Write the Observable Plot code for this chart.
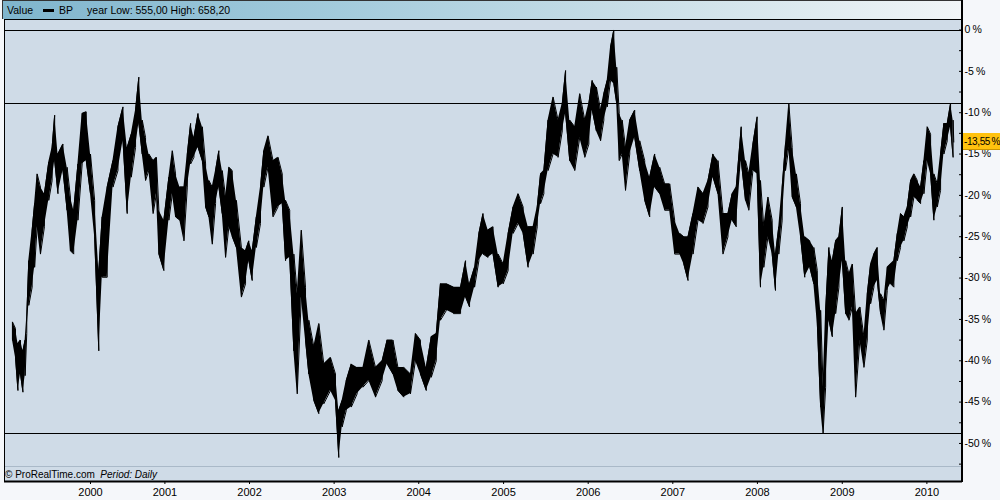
<!DOCTYPE html>
<html>
<head>
<meta charset="utf-8">
<script src="https://cdn.jsdelivr.net/npm/d3@7"></script>
<script src="https://cdn.jsdelivr.net/npm/@observablehq/plot@0.6"></script>
<style>
html, body { margin: 0; padding: 0; background: #f5f7fa; }
#wrap { position: relative; width: 1000px; height: 500px; overflow: hidden; font-family: "Liberation Sans", Arial, sans-serif; color: #000; }
#chart { position: absolute; left: 0; top: 0; }
#header { position: absolute; left: 2px; top: 0; width: 959px; height: 19px; border-top: 1px solid #333; border-left: 1px solid #333;
  background: linear-gradient(to right, #7fb5cd 0%, #a3cbdc 35%, #c8dee7 65%, #f1f5f7 100%);
  font-size: 10.5px; line-height: 18px; white-space: nowrap; box-sizing: border-box; }
#header .bar { display: inline-block; width: 11px; height: 3px; background: #000; vertical-align: middle; margin: 0 5px 0 10px; position: relative; top: -1px; }
#rightline { position: absolute; left: 961px; top: 0; width: 2px; height: 482px; background: #000; }
#footline { position: absolute; left: 5px; top: 466px; width: 956px; height: 1px; background: #aab9c8; }
#credit { position: absolute; left: 5px; top: 469px; font-size: 10px; line-height: 12px; white-space: nowrap; }
#last { position: absolute; left: 963px; width: 37px; height: 17px; background: #ffc20e; font-size: 10px; letter-spacing: -0.4px; padding-left: 1px; line-height: 17px; white-space: nowrap; overflow: hidden; border-bottom: 1px solid #c99400; box-sizing: border-box; }
</style>
</head>
<body>
<div id="wrap">
  <div id="chart"></div>
  <div id="header"></div>
  <div id="rightline"></div>
  <div id="footline"></div>
  <div id="credit"></div>
  <div id="last"></div>
</div>
<script>
// ---- data (decimal years, % below the high) ----
const years = [
1999.201,1999.237,1999.266,1999.296,1999.325,1999.351,1999.370,1999.394,1999.434,1999.463,
1999.493,1999.532,1999.579,1999.630,1999.670,1999.700,1999.739,1999.798,1999.847,1999.886,
1999.925,1999.975,2000.025,2000.073,2000.123,2000.172,2000.221,2000.261,2000.320,2000.388,
2000.447,2000.506,2000.556,2000.604,2000.654,2000.693,2000.733,2000.772,2000.811,2000.861,
2000.900,2000.929,2000.988,2001.047,2001.088,2001.126,2001.176,2001.225,2001.265,2001.304,
2001.343,2001.392,2001.442,2001.481,2001.520,2001.560,2001.599,2001.638,2001.678,2001.717,
2001.756,2001.796,2001.845,2001.904,2001.953,2001.992,
2002.032,2002.081,2002.130,2002.169,2002.219,2002.278,2002.337,2002.387,2002.426,2002.475,
2002.524,2002.564,2002.612,2002.662,2002.701,2002.760,2002.819,2002.878,2002.957,2003.016,
2003.055,2003.095,2003.144,2003.203,2003.272,2003.341,2003.410,2003.489,2003.568,2003.627,
2003.695,2003.754,2003.823,2003.902,2003.961,2004.020,2004.089,2004.148,2004.207,2004.256,
2004.327,2004.410,2004.493,2004.552,2004.599,2004.658,2004.709,2004.758,2004.817,2004.876,
2004.936,
2004.995,2005.054,2005.113,2005.172,2005.231,2005.290,2005.349,2005.398,2005.437,2005.476,
2005.526,2005.585,2005.644,2005.694,2005.733,2005.782,2005.841,2005.900,2005.960,2006.008,
2006.048,2006.097,2006.146,2006.185,2006.225,2006.264,2006.303,2006.337,2006.367,2006.402,
2006.441,2006.491,2006.550,2006.609,2006.668,2006.727,2006.786,2006.845,2006.904,2006.963,
2007.022,2007.082,2007.130,2007.180,2007.239,2007.298,2007.357,2007.416,2007.475,2007.534,
2007.593,2007.652,2007.702,2007.750,2007.809,2007.859,2007.898,
2007.947,2007.997,2008.036,2008.075,2008.124,2008.174,2008.213,2008.252,2008.292,2008.331,
2008.370,2008.410,2008.459,2008.508,2008.558,2008.617,2008.665,2008.706,2008.745,2008.774,
2008.804,2008.843,2008.883,2008.922,2008.961,2009.001,2009.040,2009.079,2009.119,2009.158,
2009.208,2009.256,2009.296,2009.335,2009.374,2009.414,2009.453,2009.492,2009.532,2009.571,
2009.610,2009.651,2009.689,2009.728,2009.769,2009.808,2009.847,2009.887,2009.926,2009.965,
2010.005,2010.044,2010.083,2010.123,2010.162,2010.201,2010.241,2010.280,2010.310
];
const highs = [
-35.3,-36.1,-37.9,-37.5,-38.8,-37.5,-34.7,-27.9,-24.2,-21.0,
-17.4,-19.0,-19.8,-16.0,-14.2,-10.3,-15.0,-13.8,-16.6,-20.2,
-21.8,-16.2,-10.1,-9.9,-15.0,-20.6,-29.1,-22.6,-19.0,-15.8,
-11.7,-9.3,-14.2,-12.6,-9.7,-5.7,-10.9,-13.0,-15.0,-15.8,
-15.4,-21.8,-23.0,-17.8,-14.6,-17.4,-19.0,-19.0,-15.0,-11.3,
-13.0,-10.1,-11.7,-16.2,-18.2,-19.0,-17.0,-14.6,-17.0,-20.2,
-16.6,-17.0,-20.6,-26.3,-26.7,-25.5,
-26.7,-22.6,-19.0,-14.6,-12.8,-15.8,-15.4,-17.4,-20.6,-21.8,
-27.1,-31.9,-24.2,-31.1,-35.1,-38.3,-35.5,-40.4,-39.6,-41.6,
-46.0,-44.8,-42.4,-40.4,-40.8,-40.8,-37.5,-40.8,-40.0,-37.5,
-37.5,-40.8,-40.8,-41.6,-36.7,-37.5,-40.8,-37.1,-36.7,-30.7,
-30.7,-31.1,-31.1,-27.9,-30.7,-28.7,-24.6,-22.2,-24.2,-23.8,
-27.1,
-28.3,-24.6,-21.4,-19.8,-21.4,-23.8,-23.8,-21.4,-17.4,-17.0,
-10.9,-8.1,-10.9,-8.9,-4.9,-10.9,-11.7,-7.7,-10.9,-8.9,
-6.1,-6.9,-9.7,-7.7,-6.1,-2.1,0.0,-4.5,-10.1,-10.9,
-14.2,-10.9,-9.7,-13.4,-15.8,-17.8,-15.0,-16.6,-18.6,-18.6,
-23.0,-24.6,-25.0,-25.0,-22.2,-19.0,-19.8,-18.2,-15.0,-15.8,
-22.2,-22.2,-19.8,-19.0,-11.7,-15.8,-17.4,
-13.8,-10.5,-18.2,-23.8,-20.2,-23.0,-27.1,-23.8,-19.0,-13.8,
-8.9,-14.2,-17.4,-21.0,-25.0,-25.5,-26.3,-29.1,-33.9,-43.2,
-33.9,-26.3,-27.9,-25.5,-25.0,-21.4,-27.9,-29.5,-28.3,-34.3,
-33.5,-37.1,-31.9,-28.3,-27.1,-26.3,-31.9,-32.7,-28.7,-28.3,
-27.9,-24.6,-22.2,-22.6,-21.4,-18.2,-17.4,-18.2,-19.0,-15.8,
-11.7,-12.6,-17.4,-18.6,-15.0,-11.3,-11.3,-8.9,-10.9
];
const lows = [
-37.5,-39.6,-43.6,-41.6,-43.8,-41.8,-36.7,-33.3,-31.1,-28.7,
-23.8,-27.1,-23.8,-20.6,-18.2,-15.8,-19.8,-17.0,-21.8,-26.7,
-27.1,-23.0,-16.2,-15.8,-19.8,-25.0,-38.8,-29.9,-29.9,-19.0,
-17.0,-13.4,-22.2,-17.8,-14.2,-11.3,-15.0,-18.2,-17.0,-22.2,
-19.8,-27.1,-29.1,-23.0,-19.8,-22.6,-23.0,-25.5,-19.0,-16.2,
-15.4,-14.2,-15.8,-21.4,-22.6,-25.9,-21.0,-19.0,-22.2,-27.5,
-23.8,-25.0,-26.3,-32.3,-30.7,-27.9,
-30.3,-26.3,-23.4,-19.0,-16.6,-22.6,-21.4,-21.0,-27.9,-27.5,
-38.8,-44.0,-32.3,-37.5,-41.6,-44.8,-46.4,-45.2,-43.6,-44.8,
-51.7,-48.0,-46.0,-45.6,-44.0,-43.2,-42.4,-44.4,-42.4,-40.4,
-41.6,-43.6,-44.4,-44.0,-40.0,-41.6,-43.6,-42.0,-40.0,-35.1,
-33.9,-34.3,-34.3,-32.3,-33.5,-31.1,-27.9,-27.1,-27.5,-27.1,
-31.1,
-30.7,-29.1,-24.6,-23.4,-24.6,-28.7,-27.1,-23.8,-21.0,-19.8,
-17.0,-15.0,-15.4,-12.2,-10.1,-15.8,-17.0,-13.0,-15.4,-13.8,
-9.7,-12.2,-13.4,-10.9,-9.3,-6.1,-6.5,-8.9,-15.8,-15.0,
-19.4,-15.0,-13.0,-17.0,-20.6,-22.6,-19.0,-19.8,-21.8,-21.8,
-27.1,-27.1,-28.3,-30.3,-27.1,-23.0,-23.4,-21.4,-17.8,-19.8,
-27.1,-25.0,-23.0,-23.8,-15.8,-20.6,-21.8,
-17.0,-17.4,-31.1,-28.7,-25.0,-27.1,-31.5,-27.1,-23.0,-17.0,
-14.2,-20.2,-21.4,-25.0,-29.9,-28.7,-30.7,-35.5,-45.6,-48.8,
-43.2,-35.1,-37.1,-34.3,-31.1,-27.9,-34.3,-35.1,-33.5,-44.4,
-37.5,-40.8,-37.5,-33.1,-31.1,-30.3,-34.3,-36.3,-31.5,-30.7,
-31.1,-27.9,-26.3,-25.5,-23.8,-22.6,-20.2,-20.6,-21.0,-19.8,
-15.8,-17.4,-23.0,-21.4,-19.4,-15.0,-13.4,-11.7,-15.4
];
const lastDate = 2010.318;
const lastValue = -13.55;
const levels = [0, -8.9, -48.8];          // horizontal reference lines (%)
const yTickValues = [0, -5, -10, -15, -20, -25, -30, -35, -40, -45, -50];
const yMinorTicks = [2.5, 0, -2.5, -5, -7.5, -10, -12.5, -15, -17.5, -20, -22.5, -25, -27.5, -30, -32.5, -35, -37.5, -40, -42.5, -45, -47.5, -50, -52.5];
// year labels and where the platform puts them (first bar of each year, on its bar-index axis)
const xTickLabels = ["2000", "2001", "2002", "2003", "2004", "2005", "2006", "2007", "2008", "2009", "2010"];
const xTickAt = [2000.123, 2001.0, 2002.0, 2003.0, 2004.0, 2005.0, 2006.0, 2007.0, 2008.0, 2009.0, 2010.0];
const xDomainYears = [1999.107, 2010.421];
const yDomain = [-54.6, 1.27];
const seriesName = "BP";
const yearLow = "555,00";
const yearHigh = "658,20";
const credit = "ProRealTime.com";
const period = "Daily";

// ---- helpers ----
function toDate(t) {
  const y = Math.floor(t);
  const a = Date.UTC(y, 0, 1), b = Date.UTC(y + 1, 0, 1);
  return new Date(a + (t - y) * (b - a));
}
const fmtPct = d => (String(d).replace(".", ",")) + "\u2009%";

const rows = years.map((t, i) => ({date: toDate(t), hi: highs[i], lo: lows[i]}));
const zig = [];
rows.forEach((r, i) => {
  const pair = i % 2 ? [r.hi, r.lo] : [r.lo, r.hi];
  pair.forEach(v => zig.push({date: r.date, v}));
});
zig.push({date: toDate(lastDate), v: lastValue});

const tickDates = xTickAt.map(toDate);
const tickLabelOf = new Map(tickDates.map((d, i) => [+d, xTickLabels[i]]));

const chart = Plot.plot({
  width: 1000, height: 500,
  marginTop: 19, marginBottom: 19, marginLeft: 4, marginRight: 38,
  style: {background: "transparent", fontFamily: "'Liberation Sans', Arial, sans-serif", fontSize: "11px", color: "#000"},
  x: {type: "utc", domain: xDomainYears.map(toDate)},
  y: {domain: yDomain},
  marks: [
    Plot.frame({fill: "#cfdbe7"}),
    Plot.ruleY(levels, {stroke: "#000", strokeWidth: 1, shapeRendering: "crispEdges"}),
    Plot.areaY(rows, {x: "date", y1: "lo", y2: "hi", fill: "#000"}),
    Plot.line(zig, {x: "date", y: "v", stroke: "#000", strokeWidth: 1}),
    Plot.axisX({anchor: "bottom", ticks: tickDates, tickFormat: d => tickLabelOf.get(+d), tickSize: 3, tickPadding: 4, label: null, fontSize: 11}),
    Plot.axisY({anchor: "right", ticks: yTickValues, tickSize: 0, tickPadding: 2, tickFormat: fmtPct, label: null, fontSize: 10.5}),
    Plot.axisY({anchor: "right", ticks: yMinorTicks, tickSize: -4, tickFormat: () => "", label: null}),
    Plot.frame({stroke: "#000", shapeRendering: "crispEdges"}),
    Plot.ruleY([yDomain[0]], {stroke: "#000", strokeWidth: 2})
  ]
});
document.getElementById("chart").appendChild(chart);

document.getElementById("header").innerHTML =
  `<span style="margin-left:4px">Value</span><span class="bar"></span><span>${seriesName}</span>` +
  `<span style="margin-left:14px">year Low: ${yearLow} High: ${yearHigh}</span>`;
document.getElementById("credit").innerHTML =
  `\u00a9 ${credit} &nbsp;<i>Period: ${period}</i>`;
const yLast = chart.scale("y").apply(lastValue);
const lastEl = document.getElementById("last");
lastEl.style.top = (yLast - 8.5) + "px";
lastEl.textContent = fmtPct(lastValue);
</script>
</body>
</html>
